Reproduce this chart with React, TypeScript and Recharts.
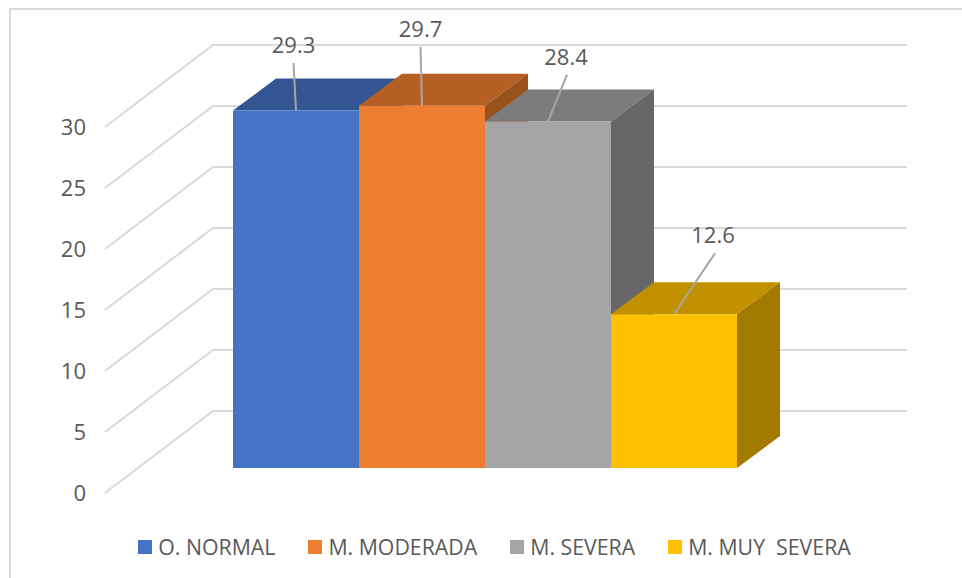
import { Bar, BarChart, CartesianGrid, Cell, LabelList, Legend, XAxis, YAxis } from 'recharts';

const categories = ['O. NORMAL', 'M. MODERADA', 'M. SEVERA', 'M. MUY  SEVERA'];
const values = [29.3, 29.7, 28.4, 12.6];
const yTicks = [0, 5, 10, 15, 20, 25, 30];

const frontColors = ['#4472C4', '#ED7D31', '#A5A5A5', '#FFC000'];
const topColors = ['#335593', '#B55F22', '#7C7C7C', '#C29100'];
const sideColors = ['#2A4678', '#9A521D', '#676767', '#A37A00'];

// where the leader line ends and where the label sits, relative to the front top centre of the bar
const leaderOffsets = [
  { x: -2.5, y: -47.5, labelX: -2.5 },
  { x: -1.5, y: -59, labelX: -1.5 },
  { x: 19, y: -47, labelX: 18 },
  { x: 41, y: -61, labelX: 39 },
];

const data = categories.map((name, i) => ({ name, value: values[i] }));

const FONT = '"Open Sans", sans-serif';
const TEXT = '#595959';
const GRID = '#D9D9D9';

const PLOT_LEFT = 105;
const PLOT_RIGHT = 907;
// back wall of the fake 3D box, seen from the front plane
const WALL_DX = 108;
const WALL_DY = 82;
// bars stand part of the way into the box
const FLOOR_SHIFT = 25;
const BAR_DX = 43;
const BAR_DY = 32;

const WallLine = ({ y1 }: any) => (
  <polyline
    points={`${PLOT_LEFT},${y1} ${PLOT_LEFT + WALL_DX},${y1 - WALL_DY} ${PLOT_RIGHT},${y1 - WALL_DY}`}
    fill="none"
    stroke={GRID}
    strokeWidth={2}
  />
);

const AxisTick = ({ y, payload }: any) => (
  <text x={86} y={y} dy={7.5} textAnchor="end" fontSize={22} fontFamily={FONT} fill={TEXT}>
    {payload.value}
  </text>
);

const Bar3D = ({ x, y, width, height, index }: any) => {
  const top = y - FLOOR_SHIFT;
  const bottom = top + height;
  const right = x + width;
  return (
    <g>
      <polygon
        points={`${x},${top} ${x + BAR_DX},${top - BAR_DY} ${right + BAR_DX},${top - BAR_DY} ${right},${top}`}
        fill={topColors[index]}
      />
      <polygon
        points={`${right},${top} ${right + BAR_DX},${top - BAR_DY} ${right + BAR_DX},${bottom - BAR_DY} ${right},${bottom}`}
        fill={sideColors[index]}
      />
      <rect x={x} y={top} width={width} height={height} fill={frontColors[index]} />
    </g>
  );
};

const LeaderLabel = ({ x, y, width, index, value }: any) => {
  const off = leaderOffsets[index];
  const cx = x + width / 2;
  const top = y - FLOOR_SHIFT;
  return (
    <g>
      <line x1={cx} y1={top} x2={cx + off.x} y2={top + off.y} stroke="#A6A6A6" strokeWidth={2} />
      <text
        x={cx + off.labelX}
        y={top + off.y - 10}
        textAnchor="middle"
        fontSize={22}
        fontFamily={FONT}
        fill={TEXT}
      >
        {value}
      </text>
    </g>
  );
};

const LegendRow = () => (
  <div style={{ display: 'flex', justifyContent: 'center', gap: 33, fontFamily: FONT, fontSize: 21.3, color: TEXT }}>
    {categories.map((name, i) => (
      <div key={name} style={{ display: 'flex', alignItems: 'center', gap: 6, whiteSpace: 'pre' }}>
        <span style={{ width: 14, height: 14, background: frontColors[i] }} />
        <span>{name}</span>
      </div>
    ))}
  </div>
);

export default function App() {
  return (
    <div style={{ position: 'absolute', left: 0, top: 0, width: 962, height: 578, background: '#fff', overflow: 'hidden' }}>
      <div style={{ position: 'absolute', left: 9, top: 8, width: 960, height: 580, border: `2px solid ${GRID}`, boxSizing: 'border-box' }} />
      <BarChart
        width={962}
        height={578}
        data={data}
        barCategoryGap={0}
        margin={{ top: 127, right: 962 - PLOT_RIGHT, bottom: 55, left: 0 }}
        style={{ position: 'absolute', left: 0, top: 0 }}
      >
        <CartesianGrid vertical={false} horizontal={WallLine} />
        <XAxis dataKey="name" hide padding={{ left: 128, right: 170 }} />
        <YAxis
          width={PLOT_LEFT}
          domain={[0, 30]}
          ticks={yTicks}
          axisLine={false}
          tickLine={false}
          interval={0}
          tick={AxisTick}
        />
        <Bar dataKey="value" isAnimationActive={false} shape={Bar3D}>
          {data.map((d, i) => (
            <Cell key={d.name} fill={frontColors[i]} />
          ))}
          <LabelList dataKey="value" content={LeaderLabel} />
        </Bar>
        <Legend height={30} content={LegendRow} wrapperStyle={{ top: 532, left: 0, width: 989 }} />
      </BarChart>
    </div>
  );
}
